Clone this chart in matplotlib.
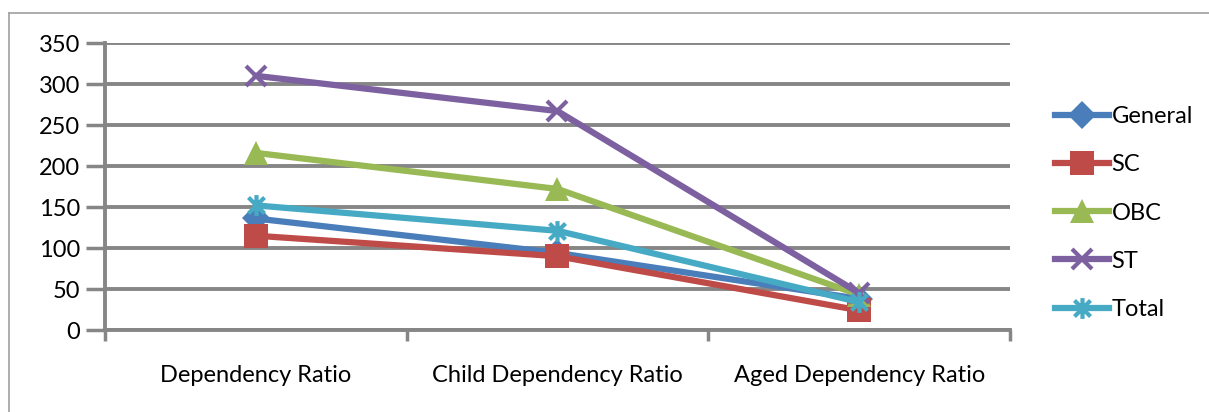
import matplotlib.pyplot as plt
from matplotlib.path import Path
from matplotlib.lines import Line2D

plt.rcParams['font.family'] = ['Lato', 'DejaVu Sans']

categories = ["Dependency Ratio", "Child Dependency Ratio", "Aged Dependency Ratio"]
general = [136, 94, 38]
sc = [115, 90, 24]
obc = [216, 172, 43]
st = [310, 267, 45]
total = [152, 121, 34]

# excel-style asterisk: x plus a vertical bar
star = Path([(-1, -1), (1, 1), (-1, 1), (1, -1), (0, -1.3), (0, 1.3)],
            [Path.MOVETO, Path.LINETO, Path.MOVETO, Path.LINETO, Path.MOVETO, Path.LINETO])

series = [
    ("General", general, "#4a7ebb", "D", 14),
    ("SC", sc, "#be4b48", "s", 17),
    ("OBC", obc, "#98b954", "^", 17),
    ("ST", st, "#7d60a0", "x", 15),
    ("Total", total, "#46aac5", star, 15),
]

fig = plt.figure(figsize=(12.09, 4.12), dpi=100)
ax = fig.add_axes([0.0868, 0.199, 0.7486, 0.6966])

xs = range(len(categories))
for name, vals, col, mk, ms in series:
    ax.plot(xs, vals, color=col, lw=4.5, marker=mk, markersize=ms,
            markeredgewidth=3 if mk in ("x",) or mk is star else 0,
            markerfacecolor=col, markeredgecolor=col, label=name, zorder=3)

ax.set_xlim(-0.5, 2.5)
ax.set_ylim(0, 350)
ax.set_yticks(range(0, 351, 50))
ax.set_xticks([0, 1, 2])
ax.set_xticklabels(categories)
ax.set_xticks([-0.5, 0.5, 1.5, 2.5], minor=True)
ax.tick_params(axis='x', which='major', length=0, pad=25, labelsize=17)
ax.tick_params(axis='x', which='minor', length=8, width=2.5, color="#868686")
ax.tick_params(axis='y', length=14, width=2.5, color="#868686", pad=4, labelsize=17)
ax.grid(axis='y', color="#868686", lw=2.8)
for s in ("top", "right"):
    ax.spines[s].set_visible(False)
for s in ("left", "bottom"):
    ax.spines[s].set_color("#868686")
    ax.spines[s].set_linewidth(2.8)

handles = [Line2D([], [], color=col, lw=4.5, marker=mk, markersize=ms,
                  markeredgewidth=3 if mk in ("x",) or mk is star else 0,
                  markerfacecolor=col, markeredgecolor=col)
           for name, vals, col, mk, ms in series]
fig.legend(handles, [s[0] for s in series], loc="center left",
           bbox_to_anchor=(0.855, 0.483), frameon=False, fontsize=17,
           handlelength=2.3, handletextpad=0.1, labelspacing=1.15)

# outer chart frame (top and left edges visible)
fig.add_artist(Line2D([0.0074, 1], [0.968, 0.968], color="#a0a0a0", lw=1.2))
fig.add_artist(Line2D([0.0074, 0.0074], [0, 0.968], color="#a0a0a0", lw=1.2))

fig.savefig("out.png", dpi=100)
